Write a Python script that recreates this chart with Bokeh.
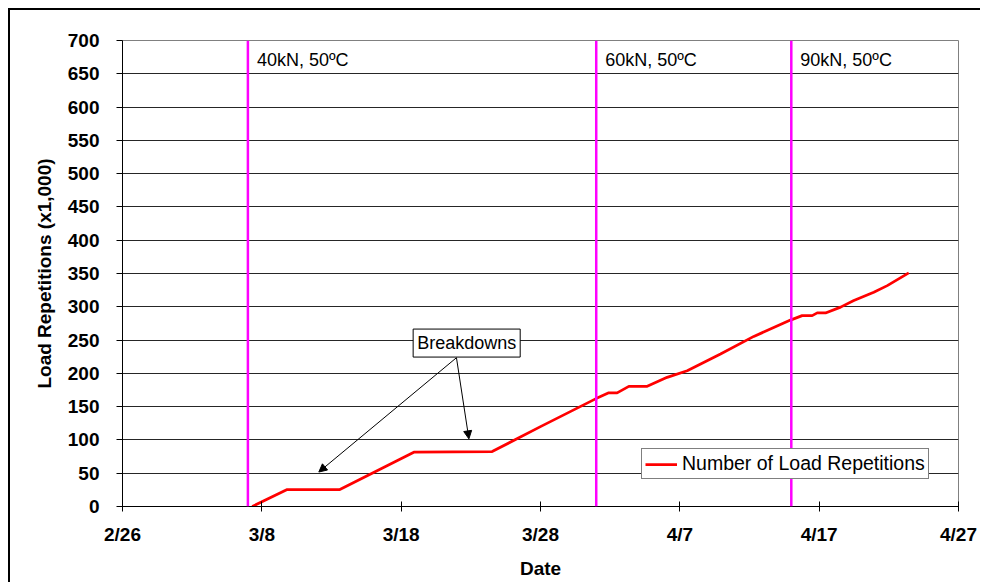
import pandas as pd
from bokeh.plotting import figure
from bokeh.models import (Span, Label, Arrow, NormalHead, FixedTicker,
                          DatetimeTickFormatter, Range1d, ColumnDataSource)
from bokeh.embed import file_html
from bokeh.resources import INLINE

# ---------------- data ----------------
rep_dates = [
    "2007-03-07 07:25", "2007-03-09 19:40", "2007-03-13 14:25", "2007-03-18 21:50",
    "2007-03-24 12:45", "2007-03-28 00:00", "2007-03-31 22:50", "2007-04-01 21:35",
    "2007-04-02 12:00", "2007-04-03 08:10", "2007-04-04 15:50", "2007-04-06 02:10",
    "2007-04-07 12:45", "2007-04-09 22:05", "2007-04-12 07:25", "2007-04-14 22:35",
    "2007-04-15 18:40", "2007-04-16 12:00", "2007-04-16 20:40", "2007-04-17 11:00",
    "2007-04-18 13:00", "2007-04-19 11:45", "2007-04-20 22:05", "2007-04-21 21:20",
    "2007-04-23 10:20",
]
rep_values = [
    0, 25.5, 25.5, 81.5,
    82.5, 120, 161.7, 170.7,
    170.7, 180.5, 180.5, 194,
    204, 229, 255.5, 280,
    286.7, 286.7, 290.8, 290.8,
    299.5, 309.4, 321.8, 331.8,
    350.9,
]
series_name = "Number of Load Repetitions"

x_tick_dates = ["2007-02-26", "2007-03-08", "2007-03-18", "2007-03-28",
                "2007-04-07", "2007-04-17", "2007-04-27"]
y_ticks = list(range(0, 701, 50))

phase_dates = ["2007-03-07", "2007-04-01", "2007-04-15"]
phase_labels = ["40kN, 50ºC", "60kN, 50ºC", "90kN, 50ºC"]

breakdown_text = "Breakdowns"
breakdown_box = ("2007-03-22 16:50", 245.5)
breakdown_from = ("2007-03-21 23:15", 223.5)
breakdown_targets_x = ["2007-03-12 02:10", "2007-03-22 20:40"]
breakdown_targets_y = [51.8, 101.6]


def ms(s):
    return pd.Timestamp(s).timestamp() * 1000.0


FONT = "Liberation Sans"

src = ColumnDataSource(dict(x=pd.to_datetime(rep_dates), y=rep_values))

p = figure(width=972, height=574, x_axis_type="datetime",
           output_backend="svg", toolbar_location=None,
           x_range=Range1d(ms(x_tick_dates[0]), ms(x_tick_dates[-1])),
           y_range=Range1d(0, 700),
           min_border_left=112, min_border_right=24,
           min_border_top=30, min_border_bottom=78)
p.styles = {"border-left": "2px solid black", "border-top": "2px solid black",
            "margin-left": "8px", "margin-top": "8px"}

p.background_fill_color = "white"
p.border_fill_color = "white"
p.outline_line_color = "#808080"
p.outline_line_width = 1

# grid
p.xgrid.grid_line_color = None
p.ygrid.grid_line_color = "black"
p.ygrid.grid_line_alpha = 0.85
p.ygrid.ticker = FixedTicker(ticks=y_ticks)

# axes
p.xaxis.ticker = FixedTicker(ticks=[ms(d) for d in x_tick_dates])
fmt = "%-m/%-d"
p.xaxis.formatter = DatetimeTickFormatter(days=fmt, months=fmt, hours=fmt,
                                          years=fmt, minutes=fmt)
p.yaxis.ticker = FixedTicker(ticks=y_ticks)

for ax in (p.xaxis[0], p.yaxis[0]):
    ax.axis_line_color = "black"
    ax.major_tick_line_color = "black"
    ax.minor_tick_line_color = None
    ax.major_label_text_font = FONT
    ax.major_label_text_font_style = "bold"
    ax.major_label_text_font_size = "19px"
    ax.major_label_text_color = "black"
    ax.axis_label_text_font = FONT
    ax.axis_label_text_font_style = "bold"
    ax.axis_label_text_font_size = "19px"
    ax.axis_label_text_color = "black"

p.xaxis.axis_label = "Date"
p.xaxis.major_tick_in = 5
p.xaxis.major_tick_out = 5
p.xaxis.major_label_standoff = 12
p.xaxis.axis_label_standoff = 10

p.yaxis.axis_label = "Load Repetitions (x1,000)"
p.yaxis.major_tick_in = 0
p.yaxis.major_tick_out = 6
p.yaxis.major_label_standoff = 17
p.yaxis.axis_label_standoff = 10

# series
p.line("x", "y", source=src, line_color="#ff0000", line_width=2.75,
       legend_label=series_name)

# phase markers
for d, lab in zip(phase_dates, phase_labels):
    p.add_layout(Span(location=ms(d), dimension="height",
                      line_color="#ff00ff", line_width=2.5))
    p.add_layout(Label(x=ms(d), y=700, text=lab, x_offset=9, y_offset=-19,
                       text_baseline="alphabetic", text_align="left",
                       text_font=FONT, text_font_size="18px",
                       text_color="black"))

# breakdown annotation
for tx, ty in zip(breakdown_targets_x, breakdown_targets_y):
    p.add_layout(Arrow(x_start=ms(breakdown_from[0]), y_start=breakdown_from[1],
                       x_end=ms(tx), y_end=ty, line_color="black", line_width=1,
                       end=NormalHead(size=8, fill_color="black",
                                      line_color="black", line_width=1)))
p.add_layout(Label(x=ms(breakdown_box[0]), y=breakdown_box[1], text=breakdown_text,
                   text_align="center", text_baseline="middle",
                   text_font=FONT, text_font_size="18px", text_color="black",
                   background_fill_color="white", border_line_color="black",
                   border_line_width=1, padding=4))

# legend
lg = p.legend[0]
lg.location = (519, 27)
lg.border_line_color = "black"
lg.border_line_width = 1
lg.background_fill_color = "white"
lg.background_fill_alpha = 1
lg.label_text_font = FONT
lg.label_text_font_size = "19.5px"
lg.label_text_color = "black"
lg.glyph_width = 32
lg.glyph_height = 20
lg.label_height = 20
lg.label_standoff = 5
lg.padding = 3
lg.margin = 0
lg.spacing = 0

open("out.html", "w").write(file_html(p, INLINE))
